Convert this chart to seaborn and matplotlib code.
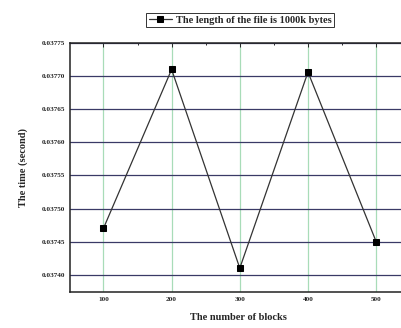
import matplotlib
matplotlib.use("Agg")
import matplotlib.pyplot as plt
import seaborn as sns
import pandas as pd
from matplotlib.ticker import MultipleLocator, FormatStrFormatter

blocks = [100, 200, 300, 400, 500]
times = [0.03747, 0.03771, 0.03741, 0.037706, 0.03745]
series_label = "The length of the file is 1000k bytes"

sns.set_style("white")
plt.rcParams["font.family"] = ["Liberation Serif", "DejaVu Serif"]

df = pd.DataFrame({"blocks": blocks, "time": times})

fig = plt.figure(figsize=(4.01, 3.28), dpi=100)
ax = fig.add_axes([0.1746, 0.1098, 0.84, 0.7592])

sns.lineplot(data=df, x="blocks", y="time", ax=ax, color="#333333",
             linewidth=0.9, marker="s", markersize=4,
             markerfacecolor="black", markeredgecolor="black",
             label=series_label)

ax.set_xlim(51, 545)
ax.set_ylim(0.037374, 0.03775)
ax.xaxis.set_major_locator(MultipleLocator(100))
ax.xaxis.set_minor_locator(MultipleLocator(50))
ax.yaxis.set_major_locator(MultipleLocator(0.00005))
ax.yaxis.set_minor_locator(MultipleLocator(0.000025))
ax.yaxis.set_major_formatter(FormatStrFormatter("%.5f"))

ax.grid(axis="y", which="major", color="#3a3a66", linewidth=0.9)
ax.grid(axis="x", which="major", color="#a8dcb8", linewidth=0.9)

ax.tick_params(axis="both", which="both", direction="in", top=True, right=True,
               labelsize=5.2, width=0.7)
ax.tick_params(axis="both", which="major", length=3)
ax.tick_params(axis="both", which="minor", length=1.5)
for lbl in ax.get_xticklabels() + ax.get_yticklabels():
    lbl.set_fontweight("bold")
for s in ax.spines.values():
    s.set_color("#222222")
    s.set_linewidth(1.1)

ax.set_xlabel("The number of blocks", fontsize=7.5, fontweight="bold", labelpad=8)
ax.set_ylabel("The time (second)", fontsize=7.5, fontweight="bold", labelpad=10)

leg = ax.legend(loc="center", bbox_to_anchor=(240 / 401, 1 - 20 / 328),
                bbox_transform=fig.transFigure, frameon=True,
                prop={"size": 7.5, "weight": "bold"},
                fancybox=False, edgecolor="black", handlelength=2.2,
                borderpad=0.25, handletextpad=0.4)
leg.get_frame().set_linewidth(0.7)

fig.savefig("out.png", dpi=100)
